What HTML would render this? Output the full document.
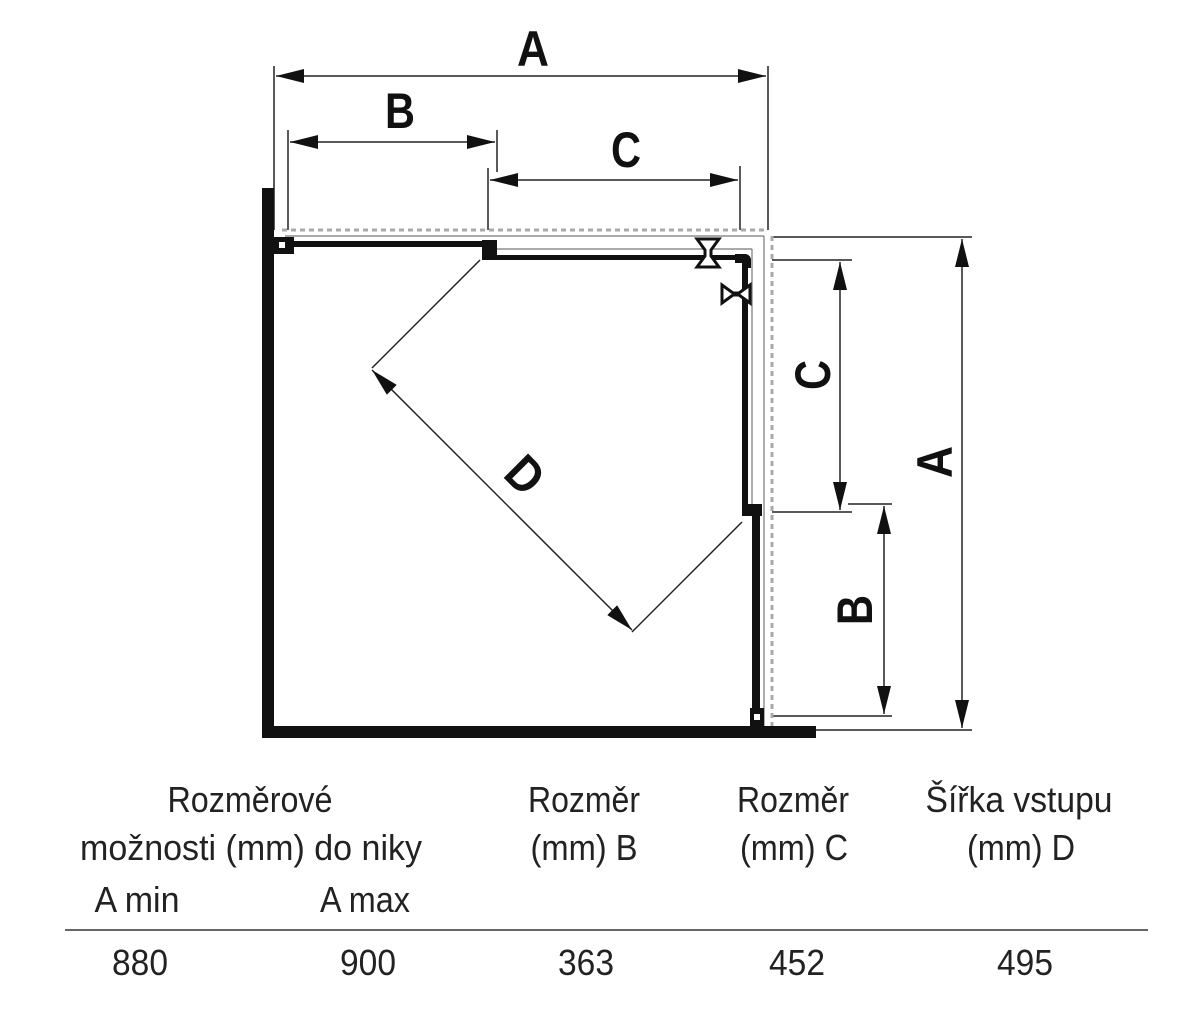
<!DOCTYPE html>
<html><head><meta charset="utf-8"><style>html,body{margin:0;padding:0;background:#fff}svg{display:block}</style></head>
<body>
<svg width="1200" height="1021" viewBox="0 0 1200 1021" xmlns="http://www.w3.org/2000/svg">
<defs>
<marker id="ar" viewBox="0 0 10 10" refX="10" refY="5" markerWidth="9" markerHeight="9" orient="auto-start-reverse" markerUnits="userSpaceOnUse">
<path d="M0,0 L10,5 L0,10 z" fill="#111"/></marker>
<marker id="arL" viewBox="0 0 10 10" refX="10" refY="5" markerWidth="28" markerHeight="14" orient="auto-start-reverse" markerUnits="userSpaceOnUse" preserveAspectRatio="none">
<path d="M0,0 L10,5 L0,10 z" fill="#111"/></marker>
</defs>
<g stroke="#222" stroke-width="1.5" fill="none">
<!-- top dims extension lines -->
<line x1="274" y1="66" x2="274" y2="230"/>
<line x1="768" y1="66" x2="768" y2="230"/>
<line x1="288" y1="130" x2="288" y2="230"/>
<line x1="497" y1="130" x2="497" y2="172"/>
<line x1="488" y1="168" x2="488" y2="230"/>
<line x1="740" y1="166" x2="740" y2="230"/>
<!-- dims -->
<line x1="276" y1="76" x2="766" y2="76" marker-start="url(#arL)" marker-end="url(#arL)"/>
<line x1="290" y1="142" x2="495" y2="142" marker-start="url(#arL)" marker-end="url(#arL)"/>
<line x1="490" y1="180" x2="738" y2="180" marker-start="url(#arL)" marker-end="url(#arL)"/>
<!-- right extension lines -->
<line x1="772" y1="237" x2="972" y2="237"/>
<line x1="772" y1="730" x2="972" y2="730"/>
<line x1="772" y1="260" x2="852" y2="260"/>
<line x1="772" y1="512" x2="852" y2="512"/>
<line x1="848" y1="504" x2="892" y2="504"/>
<line x1="772" y1="716" x2="892" y2="716"/>
<line x1="962" y1="239" x2="962" y2="728" marker-start="url(#arL)" marker-end="url(#arL)"/>
<line x1="840" y1="262" x2="840" y2="510" marker-start="url(#arL)" marker-end="url(#arL)"/>
<line x1="884" y1="506" x2="884" y2="714" marker-start="url(#arL)" marker-end="url(#arL)"/>
<!-- D -->
<line x1="372" y1="368" x2="480" y2="260"/>
<line x1="632" y1="632" x2="742" y2="522"/>
<line x1="372" y1="370" x2="632" y2="630" marker-start="url(#arL)" marker-end="url(#arL)"/>
</g>
<!-- dotted lines -->
<g stroke="#aaa" stroke-width="3" stroke-dasharray="5,4" fill="none">
<line x1="282" y1="230" x2="768" y2="230"/>
<line x1="772" y1="236" x2="772" y2="726"/>
</g>
<g stroke="#777" stroke-width="1.2" fill="none">
<line x1="285" y1="236" x2="764" y2="236"/>
<line x1="764" y1="236" x2="764" y2="726"/>
<line x1="497" y1="249" x2="752" y2="249"/>
<line x1="752" y1="249" x2="752" y2="505"/>
</g>
<!-- walls -->
<g fill="#111">
<rect x="262" y="188" width="12" height="550"/>
<rect x="262" y="726" width="554" height="12"/>
<rect x="274" y="237" width="20" height="17"/>
<rect x="294" y="241" width="190" height="6"/>
<rect x="482" y="240" width="15" height="20"/>
<rect x="490" y="255" width="250" height="5"/>
<path d="M735,254 h10 a6,6 0 0 1 6,6 v8 h-9 v-5 h-7z"/>
<rect x="742" y="262" width="6" height="246"/>
<rect x="742" y="504" width="20" height="12"/>
<rect x="752" y="516" width="8" height="210"/>
<rect x="750" y="708" width="14" height="18"/>
</g>
<rect x="279" y="242" width="6" height="6" fill="#fff"/>
<rect x="754" y="714" width="6" height="6" fill="#fff"/>
<!-- hinges -->
<g fill="#fff" stroke="#111" stroke-width="3">
<path d="M697,239 h22 l-8,11 v6 l8,11 h-22 l8,-11 v-6z"/>
<path d="M722,285 l11,8 h6 l11,-8 v18 l-11,-8 h-6 l-11,8z"/>
</g>
<!-- dim labels -->
<g font-family="'Liberation Sans Narrow','Liberation Sans',sans-serif" font-weight="bold" font-size="50" fill="#111" text-anchor="middle">
<text x="533" y="66" textLength="32" lengthAdjust="spacingAndGlyphs">A</text>
<text x="400" y="128" textLength="30" lengthAdjust="spacingAndGlyphs">B</text>
<text x="626" y="167" textLength="30" lengthAdjust="spacingAndGlyphs">C</text>
<text transform="translate(525,475) rotate(45)" x="0" y="17" textLength="32" lengthAdjust="spacingAndGlyphs">D</text>
<text transform="translate(813,375) rotate(-90)" x="0" y="17" textLength="30" lengthAdjust="spacingAndGlyphs">C</text>
<text transform="translate(855,610) rotate(-90)" x="0" y="17" textLength="30" lengthAdjust="spacingAndGlyphs">B</text>
<text transform="translate(935,462) rotate(-90)" x="0" y="17" textLength="32" lengthAdjust="spacingAndGlyphs">A</text>
</g>
<!-- table -->
<g font-family="'Liberation Sans Narrow','Liberation Sans',sans-serif" font-size="36" fill="#222" text-anchor="middle" lengthAdjust="spacingAndGlyphs">
<text x="250" y="812" textLength="165" lengthAdjust="spacingAndGlyphs">Rozměrové</text>
<text x="251" y="860" textLength="342" lengthAdjust="spacingAndGlyphs">možnosti (mm) do niky</text>
<text x="137" y="912" textLength="85" lengthAdjust="spacingAndGlyphs">A min</text>
<text x="365" y="912" textLength="90" lengthAdjust="spacingAndGlyphs">A max</text>
<text x="584" y="812" textLength="112" lengthAdjust="spacingAndGlyphs">Rozměr</text>
<text x="584" y="860" textLength="107" lengthAdjust="spacingAndGlyphs">(mm) B</text>
<text x="793" y="812" textLength="112" lengthAdjust="spacingAndGlyphs">Rozměr</text>
<text x="794" y="860" textLength="108" lengthAdjust="spacingAndGlyphs">(mm) C</text>
<text x="1019" y="812" textLength="187" lengthAdjust="spacingAndGlyphs">Šířka vstupu</text>
<text x="1021" y="860" textLength="108" lengthAdjust="spacingAndGlyphs">(mm) D</text>
<text x="140" y="975" textLength="56" lengthAdjust="spacingAndGlyphs">880</text>
<text x="368" y="975" textLength="56" lengthAdjust="spacingAndGlyphs">900</text>
<text x="586" y="975" textLength="56" lengthAdjust="spacingAndGlyphs">363</text>
<text x="797" y="975" textLength="56" lengthAdjust="spacingAndGlyphs">452</text>
<text x="1025" y="975" textLength="56" lengthAdjust="spacingAndGlyphs">495</text>
</g>
<line x1="65" y1="930" x2="1148" y2="930" stroke="#333" stroke-width="1.5"/>
</svg>
</body></html>
